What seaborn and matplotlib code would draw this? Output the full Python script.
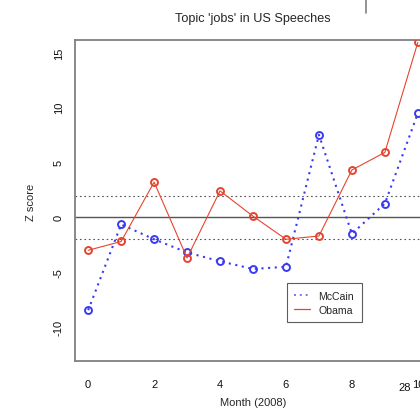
import matplotlib
matplotlib.use("Agg")
import matplotlib.pyplot as plt
import pandas as pd
import seaborn as sns
from matplotlib.lines import Line2D

# ------------------------------------------------------------
# Data (z scores per month)
# ------------------------------------------------------------
months = [0, 1, 2, 3, 4, 5, 6, 7, 8, 9, 10]
mccain = [-8.45, -0.65, -2.0, -3.2, -4.0, -4.7, -4.5, 7.5, -1.5, 1.25, 9.45]
obama = [-3.0, -2.2, 3.2, -3.7, 2.4, 0.1, -2.0, -1.7, 4.3, 5.9, 15.9]
ref_levels = [-1.96, 1.96]
x_ticks = [0, 2, 4, 6, 8, 10]
y_ticks = [-10, -5, 0, 5, 10, 15]

BLUE = "#3a3af2"
RED = "#e5452f"
GREY = "#808080"

sns.set_style("white")
plt.rcParams["font.family"] = ["Liberation Sans", "DejaVu Sans"]

df = pd.DataFrame({"month": months, "McCain": mccain, "Obama": obama})

fig = plt.figure(figsize=(4.2, 4.14), dpi=100)
# axes run past the right edge of the picture, as in the reference crop
ax = fig.add_axes([75 / 420, 1 - 361.7 / 414, 356 / 420, 320.7 / 414])

ax.axhline(0, color="#555555", lw=1.0, zorder=1)
for lv in ref_levels:
    ax.axhline(lv, color="#555555", lw=0.8, ls=(0, (1.5, 2.5)), zorder=1)

sns.lineplot(data=df, x="month", y="McCain", ax=ax, color=BLUE, lw=1.5,
             linestyle=(0, (1, 2.2)), marker="o", markersize=5,
             markerfacecolor="none", markeredgecolor=BLUE, markeredgewidth=1.4,
             zorder=3)
sns.lineplot(data=df, x="month", y="Obama", ax=ax, color=RED, lw=0.8,
             marker="o", markersize=5, markerfacecolor="none",
             markeredgecolor=RED, markeredgewidth=1.4, zorder=4)

ax.set_xlim(-0.4, 10.4)
ax.set_ylim(-13.04, 16.12)
ax.set_xticks(x_ticks)
ax.set_yticks(y_ticks)
ax.set_yticklabels([str(t) for t in y_ticks], rotation=90, va="center")
ax.tick_params(axis="both", direction="out", length=5, width=0.8,
               color=GREY, labelsize=8, pad=8, labelcolor="#111111")
ax.tick_params(axis="y", pad=3)
for sp in ax.spines.values():
    sp.set_color(GREY)
    sp.set_linewidth(1.3)

ax.set_xlabel("Month (2008)", fontsize=8, va="center")
ax.xaxis.set_label_coords(178 / 356, (361.7 - 403) / 320.7)
ax.set_ylabel("Z score", fontsize=8, va="center")
ax.yaxis.set_label_coords((31 - 75) / 356, (361.7 - 202) / 320.7)
ax.set_title("Topic 'jobs' in US Speeches", fontsize=9.1, pad=14)

handles = [
    Line2D([], [], color=BLUE, lw=1.4, ls=(0, (1, 2.0)), alpha=0.7),
    Line2D([], [], color=RED, lw=0.9),
]
leg = ax.legend(handles, ["McCain", "Obama"], loc="upper left",
                bbox_to_anchor=(6.03, -6.0), bbox_transform=ax.transData,
                fontsize=7.6, frameon=True, fancybox=False, borderpad=0.7,
                handlelength=1.5, handletextpad=0.8, labelspacing=0.4,
                borderaxespad=0)
leg.get_frame().set_edgecolor("#333333")
leg.get_frame().set_linewidth(0.8)

# stray marks at the edges of the original picture
fig.add_artist(Line2D([366 / 420, 366 / 420], [1.0, 1 - 14 / 414],
                      transform=fig.transFigure, color=GREY, lw=1.2))
fig.text(405 / 420, 1 - 388 / 414, "28", fontsize=8, ha="center",
         va="center", color="#111111")

fig.savefig("out.png", dpi=100)
